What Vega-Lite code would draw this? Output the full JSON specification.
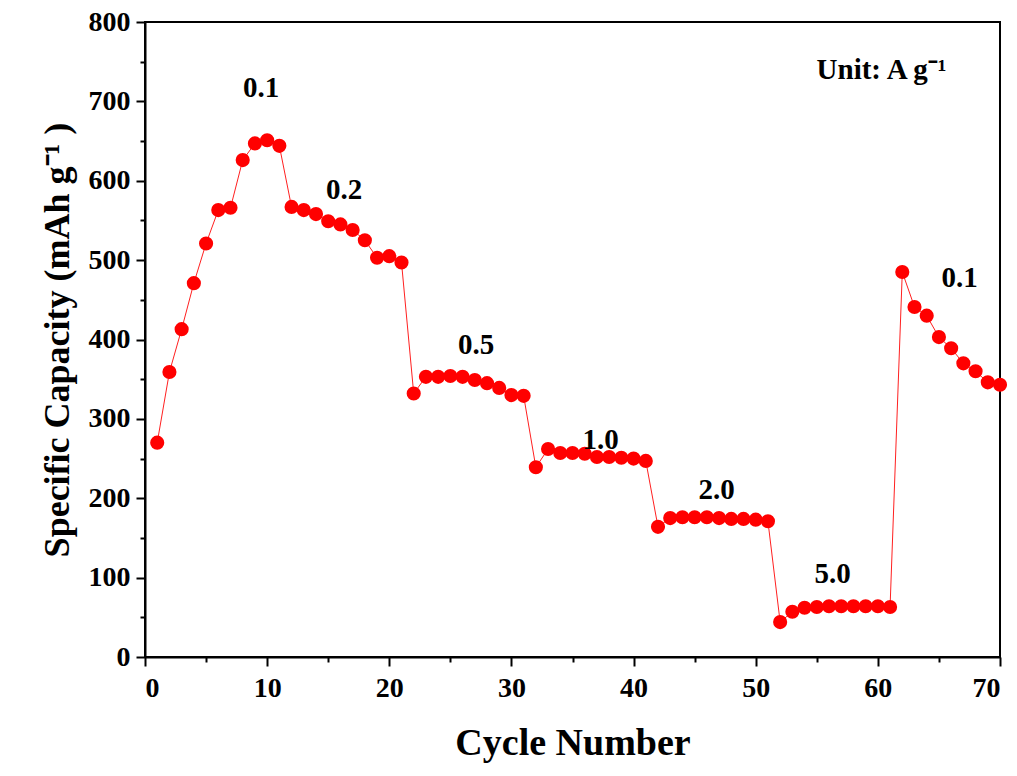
{
  "$schema": "https://vega.github.io/schema/vega-lite/v6.json",
  "width": 855,
  "height": 635,
  "autosize": "none",
  "padding": {"left": 145, "top": 22, "right": 17, "bottom": 119},
  "background": "white",
  "config": {
    "view": {"stroke": "black", "strokeWidth": 2},
    "font": "Liberation Serif"
  },
  "datasets": {
    "cap": [
      {"cycle": 1, "capacity": 270}, {"cycle": 2, "capacity": 359}, {"cycle": 3, "capacity": 413},
      {"cycle": 4, "capacity": 471}, {"cycle": 5, "capacity": 521}, {"cycle": 6, "capacity": 563},
      {"cycle": 7, "capacity": 566}, {"cycle": 8, "capacity": 626}, {"cycle": 9, "capacity": 647},
      {"cycle": 10, "capacity": 651}, {"cycle": 11, "capacity": 644}, {"cycle": 12, "capacity": 567},
      {"cycle": 13, "capacity": 563}, {"cycle": 14, "capacity": 558}, {"cycle": 15, "capacity": 549},
      {"cycle": 16, "capacity": 545}, {"cycle": 17, "capacity": 538}, {"cycle": 18, "capacity": 525},
      {"cycle": 19, "capacity": 503}, {"cycle": 20, "capacity": 505}, {"cycle": 21, "capacity": 497},
      {"cycle": 22, "capacity": 332}, {"cycle": 23, "capacity": 353}, {"cycle": 24, "capacity": 353},
      {"cycle": 25, "capacity": 354}, {"cycle": 26, "capacity": 353}, {"cycle": 27, "capacity": 349},
      {"cycle": 28, "capacity": 345}, {"cycle": 29, "capacity": 339}, {"cycle": 30, "capacity": 330},
      {"cycle": 31, "capacity": 329}, {"cycle": 32, "capacity": 239}, {"cycle": 33, "capacity": 262},
      {"cycle": 34, "capacity": 257}, {"cycle": 35, "capacity": 257}, {"cycle": 36, "capacity": 256},
      {"cycle": 37, "capacity": 252}, {"cycle": 38, "capacity": 252}, {"cycle": 39, "capacity": 251},
      {"cycle": 40, "capacity": 250}, {"cycle": 41, "capacity": 247}, {"cycle": 42, "capacity": 164},
      {"cycle": 43, "capacity": 175}, {"cycle": 44, "capacity": 176}, {"cycle": 45, "capacity": 176},
      {"cycle": 46, "capacity": 176}, {"cycle": 47, "capacity": 175}, {"cycle": 48, "capacity": 174},
      {"cycle": 49, "capacity": 174}, {"cycle": 50, "capacity": 173}, {"cycle": 51, "capacity": 171},
      {"cycle": 52, "capacity": 44}, {"cycle": 53, "capacity": 57}, {"cycle": 54, "capacity": 62},
      {"cycle": 55, "capacity": 63}, {"cycle": 56, "capacity": 64}, {"cycle": 57, "capacity": 64},
      {"cycle": 58, "capacity": 64}, {"cycle": 59, "capacity": 64}, {"cycle": 60, "capacity": 64},
      {"cycle": 61, "capacity": 63}, {"cycle": 62, "capacity": 485}, {"cycle": 63, "capacity": 441},
      {"cycle": 64, "capacity": 430}, {"cycle": 65, "capacity": 403}, {"cycle": 66, "capacity": 389},
      {"cycle": 67, "capacity": 370}, {"cycle": 68, "capacity": 360}, {"cycle": 69, "capacity": 346},
      {"cycle": 70, "capacity": 343}
    ],
    "labels": [
      {"cycle": 9.5, "capacity": 717, "text": "0.1"},
      {"cycle": 16.3, "capacity": 588, "text": "0.2"},
      {"cycle": 27.1, "capacity": 393, "text": "0.5"},
      {"cycle": 37.3, "capacity": 273, "text": "1.0"},
      {"cycle": 46.8, "capacity": 210, "text": "2.0"},
      {"cycle": 56.3, "capacity": 105, "text": "5.0"},
      {"cycle": 66.7, "capacity": 477, "text": "0.1"},
      {"cycle": 60.3, "capacity": 739, "text": "Unit: A g⁻¹"}
    ]
  },
  "encoding": {
    "x": {
      "field": "cycle", "type": "quantitative",
      "scale": {"domain": [0, 70], "nice": false},
      "axis": {
        "title": "Cycle Number",
        "values": [0,5,10,15,20,25,30,35,40,45,50,55,60,65,70],
        "labelExpr": "datum.value % 10 === 0 ? datum.label : ''",
        "tickSize": {"condition": {"test": "datum.value % 10 === 0", "value": 9}, "value": 5},
        "tickColor": "black", "tickWidth": 2,
        "domainColor": "black", "domainWidth": 2,
        "grid": false,
        "labelFont": "Liberation Serif", "labelFontWeight": "bold", "labelFontSize": 28, "labelColor": "black",
        "labelPadding": 8,
        "titleFont": "Liberation Serif", "titleFontWeight": "bold", "titleFontSize": 38, "titleColor": "black",
        "titlePadding": 22
      }
    },
    "y": {
      "field": "capacity", "type": "quantitative",
      "scale": {"domain": [0, 800], "nice": false},
      "axis": {
        "title": "Specific Capacity (mAh g⁻¹ )",
        "values": [0,50,100,150,200,250,300,350,400,450,500,550,600,650,700,750,800],
        "labelExpr": "datum.value % 100 === 0 ? datum.label : ''",
        "tickSize": {"condition": {"test": "datum.value % 100 === 0", "value": 9}, "value": 5},
        "tickColor": "black", "tickWidth": 2,
        "domainColor": "black", "domainWidth": 2,
        "grid": false,
        "labelFont": "Liberation Serif", "labelFontWeight": "bold", "labelFontSize": 28, "labelColor": "black",
        "labelPadding": 6,
        "titleFont": "Liberation Serif", "titleFontWeight": "bold", "titleFontSize": 36, "titleColor": "black",
        "titlePadding": 12
      }
    }
  },
  "layer": [
    {
      "data": {"name": "cap"},
      "mark": {"type": "line", "color": "#ff2020", "strokeWidth": 1}
    },
    {
      "data": {"name": "cap"},
      "mark": {"type": "point", "filled": true, "color": "#ff0000", "size": 200, "opacity": 1}
    },
    {
      "data": {"name": "labels"},
      "mark": {"type": "text", "font": "Liberation Serif", "fontWeight": "bold", "fontSize": 29, "color": "black", "align": "center", "baseline": "middle"},
      "encoding": {"text": {"field": "text"}}
    }
  ]
}
